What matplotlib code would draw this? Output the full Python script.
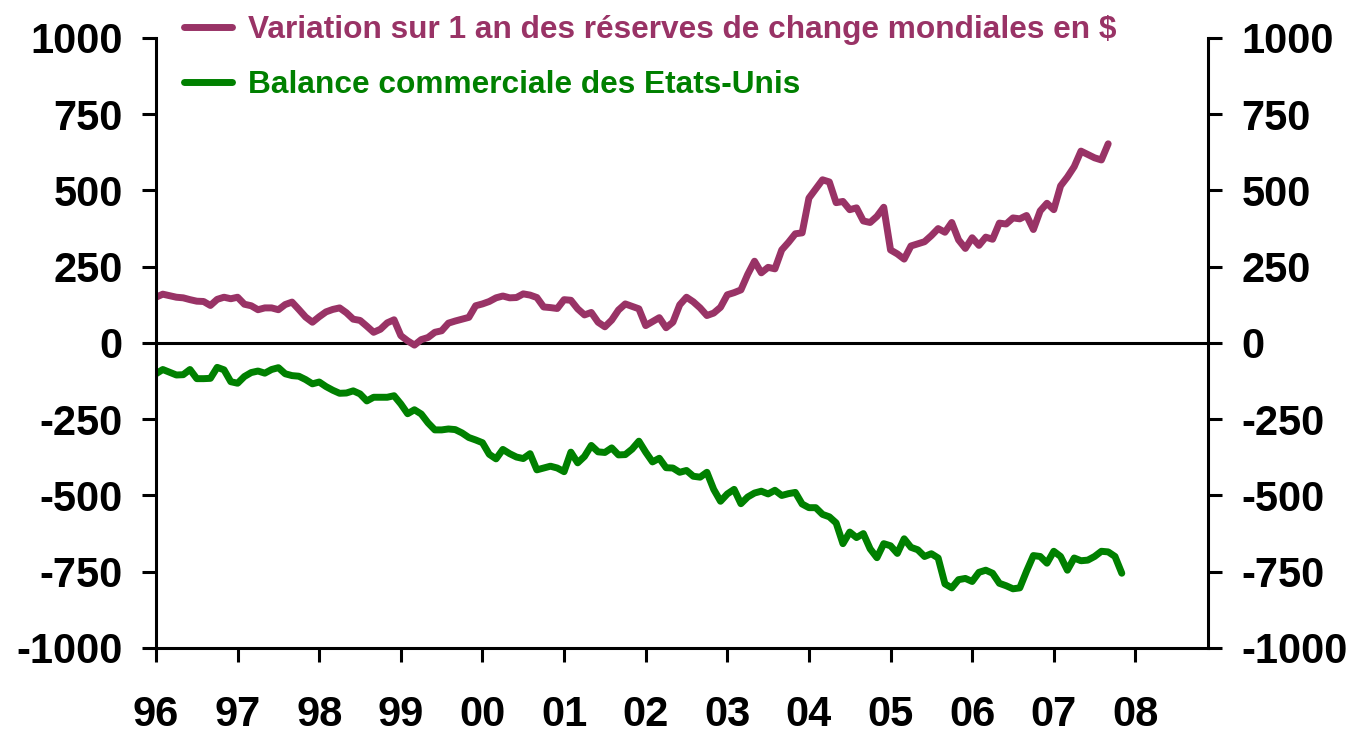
import matplotlib
matplotlib.use("Agg")
import matplotlib.pyplot as plt
import numpy as np

plt.rcParams['font.family'] = ['Liberation Sans', 'DejaVu Sans']
plt.rcParams['font.weight'] = 'bold'

# monthly values starting Jan 1996
reserves = [150, 160, 155, 150, 148, 142, 137, 136, 123, 143, 150, 145,
            150, 127, 122, 109, 115, 115, 109, 126, 134, 110, 85, 68,
            86, 102, 110, 115, 99, 78, 74, 55, 35, 45, 66, 76,
            24, 7, -7, 11, 18, 35, 40, 65, 72, 78, 84, 122,
            128, 136, 148, 154, 148, 149, 161, 157, 149, 118, 116, 113,
            142, 140, 112, 92, 100, 68, 53, 75, 108, 128, 120, 112,
            57, 70, 83, 50, 68, 125, 150, 135, 115, 90, 98, 117,
            158, 165, 174, 225, 268, 230, 248, 243, 305, 330, 358, 361,
            475, 505, 535, 528, 460, 464, 437, 443, 400, 395, 415, 445,
            305, 292, 275, 318, 325, 332, 352, 375, 363, 395, 338, 310,
            345, 320, 347, 340, 393, 390, 410, 407, 418, 372, 433, 458,
            437, 515, 544, 578, 629, 618, 607, 600, 653]

trade = [-101, -87, -96, -105, -104, -87, -117, -117, -116, -80, -88, -127,
         -132, -110, -97, -92, -99, -87, -81, -101, -107, -109, -120, -134,
         -128, -143, -155, -165, -164, -157, -167, -190, -178, -178, -178, -173,
         -200, -232, -219, -233, -262, -285, -285, -282, -284, -295, -310, -318,
         -327, -365, -380, -349, -363, -374, -379, -363, -416, -410, -404, -410,
         -422, -358, -393, -372, -336, -357, -359, -344, -367, -366, -348, -322,
         -358, -390, -378, -409, -410, -424, -418, -437, -440, -424, -480, -519,
         -495, -480, -527, -505, -492, -486, -495, -483, -500, -494, -490, -528,
         -540, -540, -562, -570, -590, -658, -620, -638, -625, -675, -704, -658,
         -665, -690, -642, -670, -678, -700, -691, -705, -790, -803, -776, -772,
         -782, -752, -745, -755, -788, -796, -806, -803, -748, -697, -700, -722,
         -683, -700, -745, -705, -714, -712, -700, -683, -685, -700, -755]

years = list(range(1996, 2009))
year_labels = ['96', '97', '98', '99', '00', '01', '02', '03', '04', '05', '06', '07', '08']
yticks = [-1000, -750, -500, -250, 0, 250, 500, 750, 1000]

label_res = "Variation sur 1 an des réserves de change mondiales en $"
label_trade = "Balance commerciale des Etats-Unis"

t_res = 1996 + np.arange(len(reserves)) / 12
t_trade = 1996 + np.arange(len(trade)) / 12

fig = plt.figure(figsize=(13.54, 7.33), dpi=100)
ax = fig.add_axes([0.1152, 0.116, 0.777, 0.8322])

purple = '#993366'
green = '#008000'
ax.plot(t_res, reserves, color=purple, lw=5, label=label_res,
        solid_joinstyle='round', solid_capstyle='round')
ax.plot(t_trade, trade, color=green, lw=5, label=label_trade,
        solid_joinstyle='round', solid_capstyle='round')
ax.axhline(0, color='black', lw=2.2, zorder=1)

ax.set_xlim(1996, 2008.89)
ax.set_ylim(-1000, 1000)
ax.set_xticks(years)
ax.set_xticklabels(year_labels)
ax.set_yticks(yticks)
ax.set_yticklabels([str(v) for v in yticks])

ax.spines['top'].set_visible(False)
for s in ['left', 'right', 'bottom']:
    ax.spines[s].set_linewidth(2.2)

ax.tick_params(axis='y', which='both', direction='out', length=10, width=2.2,
               labelsize=30, pad=14, left=True, right=True, labelleft=True, labelright=True)
ax.tick_params(axis='x', direction='out', length=10, width=2.2, labelsize=30, pad=24)

leg = ax.legend(loc='upper left', bbox_to_anchor=(0.015, 1.058), frameon=False,
                fontsize=22.8, handlelength=1.5, handletextpad=0.5, labelspacing=0.78,
                labelcolor='linecolor', borderaxespad=0)

fig.savefig('out.png', dpi=100)
